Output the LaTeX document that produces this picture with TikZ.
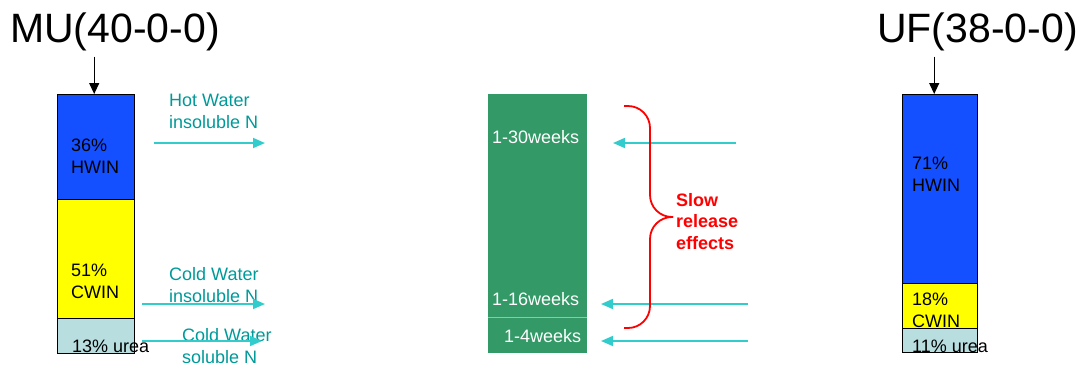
\documentclass[tikz,border=0pt]{standalone}
\usepackage{fontspec}
\setmainfont{Liberation Sans}
\usetikzlibrary{arrows.meta}
\definecolor{colHWIN}{RGB}{20, 80, 255}
\definecolor{colCWIN}{RGB}{255, 255, 0}
\definecolor{colUrea}{RGB}{184, 222, 224}
\definecolor{colFlow}{RGB}{51, 204, 204}
\definecolor{colLabel}{RGB}{0, 153, 153}
\definecolor{colWeeks}{RGB}{51, 153, 102}
\definecolor{colSlow}{RGB}{255, 0, 0}

\begin{document}
\begin{tikzpicture}[
  x=1pt, y=-1pt,
  seg/.style={draw=black, line width=1.4pt, fill=#1, inner sep=0pt,
              anchor=north west},
  txt/.style={inner sep=0pt, anchor=base west, align=left,
              font=\fontsize{18}{21.5}\selectfont},
  title/.style={inner sep=0pt, anchor=base west,
                font=\fontsize{41}{45}\selectfont},
  flow/.style={colFlow, line width=1.8pt,
               -{Triangle[length=12pt, width=10pt]}},
  feed/.style={black, line width=1.2pt,
               -{Triangle[length=11pt, width=10pt]}}
]
\useasboundingbox (0,0) rectangle (1081,365);

% ---------- Titres ----------
\node[title] (muTitle) at (10,42)  {MU(40-0-0)};
\node[title] (ufTitle) at (877,42) {UF(38-0-0)};

% ---------- Colonne MU ----------
\node[seg=colHWIN, minimum width=77pt, minimum height=105pt] (muH) at (57,94)  {};
\node[seg=colCWIN, minimum width=77pt, minimum height=119pt] (muC) at (57,199) {};
\node[seg=colUrea, minimum width=77pt, minimum height=35pt]  (muU) at (57,318) {};
\node[txt] (muHt) at (71,173) {36\%\\HWIN};
\node[txt] (muCt) at (71,298) {51\%\\CWIN};
\node[txt] (muUt) at (72,352) {13\% urea};

% ---------- Colonne UF ----------
\node[seg=colHWIN, minimum width=75pt, minimum height=189pt] (ufH) at (902,94)  {};
\node[seg=colCWIN, minimum width=75pt, minimum height=45pt]  (ufC) at (902,283) {};
\node[seg=colUrea, minimum width=75pt, minimum height=24pt]  (ufU) at (902,328) {};
\node[txt] (ufHt) at (912,191) {71\%\\HWIN};
\node[txt] (ufCt) at (912,327) {18\%\\CWIN};
\node[txt] (ufUt) at (912,352) {11\% urea};

% ---------- Flèches d'entrée ----------
\draw[feed, shorten <=6pt] ([xshift=-2pt]muTitle.south -| muH.north) -- ([xshift=-2pt]muH.north);
\draw[feed, shorten <=6pt] ([xshift=-6pt]ufTitle.south -| ufH.north) -- ([xshift=-6pt]ufH.north);

% ---------- Barre des durées ----------
\node[inner sep=0pt, anchor=north west, fill=colWeeks,
      minimum width=99pt, minimum height=259pt] (weeks) at (488,94) {};
\draw[colWeeks!55!white, line width=0.6pt] (488,317) -- (587,317);
\node[txt, white] (w30) at (492,143) {1-30weeks};
\node[txt, white] (w16) at (492,305) {1-16weeks};
\node[txt, white] (w4)  at (504,342) {1-4weeks};

% ---------- Libellés des fractions ----------
\node[txt, colLabel] (lHot)  at (169,128) {Hot Water\\insoluble N};
\node[txt, colLabel] (lCold) at (169,302) {Cold Water\\insoluble N};
\node[txt, colLabel] (lSol)  at (182,363) {Cold Water\\soluble N};

% ---------- Flèches turquoise ----------
\coordinate (hwA) at (154,143); \coordinate (hwB) at (265,143);
\coordinate (cwA) at (142,304); \coordinate (cwB) at (265,304);
\coordinate (csA) at (142,341); \coordinate (csB) at (262,341);
\draw[flow] (hwA) -- (hwB);
\draw[flow] (cwA) -- (cwB);
\draw[flow] (csA) -- (csB);

\coordinate (r30A) at (736,143); \coordinate (r30B) at (613,143);
\coordinate (r16A) at (748,304); \coordinate (r16B) at (601,304);
\coordinate (r4A)  at (748,341); \coordinate (r4B)  at (601,341);
\draw[flow] (r30A) -- (r30B);
\draw[flow] (r16A) -- (r16B);
\draw[flow] (r4A) -- (r4B);

% ---------- Accolade ----------
\coordinate (brTop) at (624,106);
\coordinate (brBot) at (624,328);
\draw[colSlow, line width=1.8pt, rounded corners=22pt]
  (brTop) -- ++(26,0) -- ++(0,111) -- ++(23,0);
\draw[colSlow, line width=1.8pt, rounded corners=22pt]
  (brBot) -- ++(26,0) -- ++(0,-111) -- ++(23,0);
\node[txt, colSlow, font=\fontsize{18}{21.5}\selectfont\bfseries]
  (slow) at (676,249) {Slow\\release\\effects};

\end{tikzpicture}
\end{document}
